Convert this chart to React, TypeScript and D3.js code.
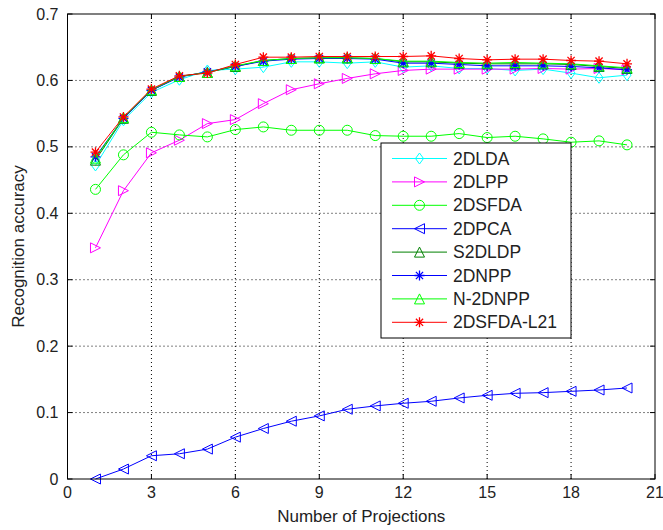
import React from "react";
import * as d3 from "d3";

const xValues = [1, 2, 3, 4, 5, 6, 7, 8, 9, 10, 11, 12, 13, 14, 15, 16, 17, 18, 19, 20];
const xTicks = [0, 3, 6, 9, 12, 15, 18, 21];
const yTicks = [0, 0.1, 0.2, 0.3, 0.4, 0.5, 0.6, 0.7];

const lda2d = [0.472, 0.540, 0.582, 0.601, 0.615, 0.617, 0.620, 0.628, 0.628, 0.626, 0.628, 0.620, 0.622, 0.618, 0.618, 0.615, 0.617, 0.611, 0.604, 0.608];
const lpp2d = [0.348, 0.434, 0.491, 0.510, 0.535, 0.541, 0.565, 0.586, 0.595, 0.603, 0.610, 0.615, 0.617, 0.617, 0.617, 0.617, 0.618, 0.617, 0.618, 0.616];
const sfda2d = [0.436, 0.488, 0.522, 0.518, 0.515, 0.526, 0.530, 0.525, 0.525, 0.525, 0.517, 0.516, 0.516, 0.520, 0.514, 0.516, 0.512, 0.507, 0.509, 0.503];
const pca2d = [0.0, 0.015, 0.035, 0.038, 0.045, 0.063, 0.076, 0.087, 0.095, 0.105, 0.110, 0.114, 0.117, 0.122, 0.126, 0.129, 0.130, 0.132, 0.134, 0.137];
const s2dldp = [0.480, 0.543, 0.585, 0.606, 0.612, 0.621, 0.630, 0.633, 0.634, 0.634, 0.633, 0.628, 0.628, 0.626, 0.625, 0.625, 0.625, 0.624, 0.621, 0.618];
const npp2d = [0.485, 0.543, 0.585, 0.605, 0.613, 0.621, 0.629, 0.632, 0.633, 0.633, 0.632, 0.626, 0.626, 0.624, 0.622, 0.622, 0.622, 0.621, 0.619, 0.616];
const n2dnpp = [0.483, 0.544, 0.586, 0.606, 0.612, 0.622, 0.630, 0.633, 0.634, 0.634, 0.633, 0.629, 0.629, 0.627, 0.626, 0.627, 0.626, 0.625, 0.622, 0.619];
const sfdaL21 = [0.492, 0.545, 0.587, 0.607, 0.611, 0.624, 0.635, 0.635, 0.636, 0.636, 0.636, 0.636, 0.637, 0.633, 0.631, 0.632, 0.632, 0.630, 0.629, 0.625];

const seriesNames = ["2DLDA", "2DLPP", "2DSFDA", "2DPCA", "S2DLDP", "2DNPP", "N-2DNPP", "2DSFDA-L21"];
const seriesValues = [lda2d, lpp2d, sfda2d, pca2d, s2dldp, npp2d, n2dnpp, sfdaL21];
const seriesColors = ["#00ffff", "#ff00ff", "#00ff00", "#0000ff", "#008000", "#0000ff", "#00ff00", "#ff0000"];
const seriesMarkers = ["diamond", "triRight", "circle", "triLeft", "triUp", "star", "triUp", "star"];

const W = 663;
const H = 530;
const L = 67.5;
const R = 655;
const T = 14;
const B = 479;
const FONT = "Arial, 'Liberation Sans', Helvetica, sans-serif";

const x = d3.scaleLinear().domain([0, 21]).range([L, R]);
const y = d3.scaleLinear().domain([0, 0.7]).range([B, T]);

function Marker({ kind, cx, cy, color }: { kind: string; cx: number; cy: number; color: string }) {
  const s = 5;
  const common = { fill: "none", stroke: color, strokeWidth: 1 };
  if (kind === "circle") return <circle cx={cx} cy={cy} r={s} {...common} />;
  if (kind === "diamond")
    return <path d={`M${cx},${cy - s - 0.5}L${cx + s - 1},${cy}L${cx},${cy + s + 0.5}L${cx - s + 1},${cy}Z`} {...common} />;
  if (kind === "triRight")
    return <path d={`M${cx + s},${cy}L${cx - s},${cy - s}L${cx - s},${cy + s}Z`} {...common} />;
  if (kind === "triLeft")
    return <path d={`M${cx - s},${cy}L${cx + s},${cy - s}L${cx + s},${cy + s}Z`} {...common} />;
  if (kind === "triUp")
    return <path d={`M${cx},${cy - s}L${cx + s},${cy + s}L${cx - s},${cy + s}Z`} {...common} />;
  if (kind === "star") {
    const d = s * 0.72;
    return (
      <path
        d={`M${cx - s},${cy}L${cx + s},${cy}M${cx},${cy - s}L${cx},${cy + s}M${cx - d},${cy - d}L${cx + d},${cy + d}M${cx - d},${cy + d}L${cx + d},${cy - d}`}
        {...common}
        strokeWidth={1.3}
      />
    );
  }
  return null;
}

export default function App() {
  const line = d3
    .line<number>()
    .x((_, i) => x(xValues[i]))
    .y((v) => y(v));

  const legX = 381;
  const legY = 143;
  const legW = 190;
  const legH = 195;
  const rowH = 23.4;

  return (
    <svg width={W} height={H} style={{ position: "absolute", left: 0, top: 0, background: "#fff" }} fontFamily={FONT}>
      <rect x={0} y={0} width={W} height={H} fill="#fff" />
      {/* grid */}
      {xTicks.slice(1, -1).map((t) => (
        <line key={"gx" + t} x1={x(t)} x2={x(t)} y1={T} y2={B} stroke="#000" strokeWidth={1} strokeDasharray="1,3" />
      ))}
      {yTicks.slice(1, -1).map((t) => (
        <line key={"gy" + t} x1={L} x2={R} y1={y(t)} y2={y(t)} stroke="#000" strokeWidth={1} strokeDasharray="1,3" />
      ))}
      {/* ticks */}
      {xTicks.map((t) => (
        <g key={"tx" + t}>
          <line x1={x(t)} x2={x(t)} y1={B} y2={B - 5} stroke="#000" />
          <line x1={x(t)} x2={x(t)} y1={T} y2={T + 5} stroke="#000" />
          <text x={x(t)} y={B + 19} textAnchor="middle" fontSize={16} fill="#222">
            {t}
          </text>
        </g>
      ))}
      {yTicks.map((t) => (
        <g key={"ty" + t}>
          <line x1={L} x2={L + 5} y1={y(t)} y2={y(t)} stroke="#000" />
          <line x1={R} x2={R - 5} y1={y(t)} y2={y(t)} stroke="#000" />
          <text x={L - 9} y={y(t) + 5.5} textAnchor="end" fontSize={16} fill="#222">
            {d3.format(".1~f")(t)}
          </text>
        </g>
      ))}
      {/* series */}
      {seriesValues.map((vals, si) => (
        <g key={seriesNames[si]}>
          <path d={line(vals) || ""} fill="none" stroke={seriesColors[si]} strokeWidth={1} />
          {vals.map((v, i) => (
            <Marker key={i} kind={seriesMarkers[si]} cx={x(xValues[i])} cy={y(v)} color={seriesColors[si]} />
          ))}
        </g>
      ))}
      {/* axes box */}
      <rect x={L} y={T} width={R - L} height={B - T} fill="none" stroke="#000" strokeWidth={1} />
      {/* labels */}
      <text x={(L + R) / 2} y={522} textAnchor="middle" fontSize={17} fill="#222">
        Number of Projections
      </text>
      <text transform={`translate(24,${(T + B) / 2}) rotate(-90)`} textAnchor="middle" fontSize={17} fill="#222">
        Recognition accuracy
      </text>
      {/* legend */}
      <rect x={legX} y={legY} width={legW} height={legH} fill="#fff" stroke="#000" strokeWidth={1} />
      {seriesNames.map((name, i) => {
        const cy = legY + 15.5 + i * rowH;
        return (
          <g key={"leg" + name}>
            <line x1={legX + 11} x2={legX + 66} y1={cy} y2={cy} stroke={seriesColors[i]} strokeWidth={1} />
            <Marker kind={seriesMarkers[i]} cx={legX + 38.5} cy={cy} color={seriesColors[i]} />
            <text x={legX + 72} y={cy + 6} fontSize={17.5} fill="#222">
              {name}
            </text>
          </g>
        );
      })}
    </svg>
  );
}
